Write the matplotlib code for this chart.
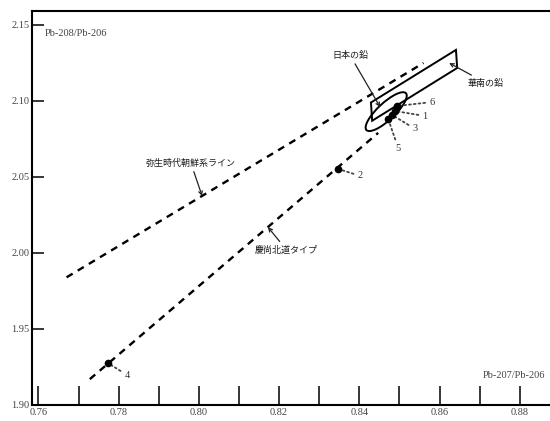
import matplotlib
matplotlib.use("Agg")
import matplotlib.pyplot as plt
from matplotlib.patches import Polygon, Ellipse
from matplotlib.transforms import ScaledTranslation
from matplotlib.ticker import MultipleLocator, FormatStrFormatter

plt.rcParams['font.family'] = ['Liberation Serif', 'DejaVu Serif']

# 測定点 (Pb-207/Pb-206, Pb-208/Pb-206)
pt_labels = ["1", "2", "3", "4", "5", "6"]
pt_x = [0.8489, 0.8347, 0.8482, 0.7773, 0.8472, 0.8494]
pt_y = [2.0934, 2.0553, 2.0908, 1.9276, 2.0882, 2.0967]
# 番号の位置
lab_x = [0.8564, 0.8402, 0.8539, 0.7821, 0.8497, 0.8581]
lab_y = [2.0901, 2.0507, 2.0816, 1.9197, 2.0690, 2.0993]

# 弥生時代朝鮮系ライン
yayoi_x = [0.767, 0.856]
yayoi_y = [1.984, 2.125]
# 慶尚北道タイプ
gyeong_x = [0.7728, 0.8447]
gyeong_y = [1.9170, 2.0790]

# 華南の鉛 の範囲
kanan_x = [0.8432, 0.8644, 0.8641, 0.8429]
kanan_y = [2.0870, 2.1217, 2.1336, 2.0990]
# 日本の鉛 の範囲 (中心)
japan_cx = 0.8467
japan_cy = 2.0930

jp = ['Noto Sans CJK JP', 'DejaVu Sans']

fig = plt.figure(figsize=(5.5, 4.21), dpi=100)
ax = fig.add_axes([32 / 550, 16 / 421, 517 / 550, 394 / 421])
ax.set_xlim(0.75838, 0.8873)
ax.set_ylim(1.90, 2.1592)

for s in ["left", "bottom", "top"]:
    ax.spines[s].set_linewidth(1.5)
ax.spines["right"].set_visible(False)

ax.xaxis.set_major_locator(MultipleLocator(0.02))
ax.xaxis.set_minor_locator(MultipleLocator(0.01))
ax.xaxis.set_major_formatter(FormatStrFormatter('%.2f'))
ax.yaxis.set_major_locator(MultipleLocator(0.05))
ax.yaxis.set_major_formatter(FormatStrFormatter('%.2f'))
ax.tick_params(axis='x', which='both', direction='in', length=14, width=1.1,
               labelsize=7.5, pad=2, labelcolor='#444444')
ax.tick_params(axis='y', which='both', direction='in', length=8.5, width=1.1,
               labelsize=7.5, pad=2, labelcolor='#444444')

# 破線
ax.plot(yayoi_x, yayoi_y, color='black', lw=1.7, ls=(0, (3, 2.5)))
ax.plot(gyeong_x, gyeong_y, color='black', lw=1.7, ls=(0, (3, 2.5)))

# 華南の鉛
ax.add_patch(Polygon(list(zip(kanan_x, kanan_y)), closed=True, fill=False,
                     edgecolor='black', lw=1.4))
# 日本の鉛
tr = fig.dpi_scale_trans + ScaledTranslation(japan_cx, japan_cy, ax.transData)
ax.add_patch(Ellipse((0, 0), 0.54, 0.17, angle=43, transform=tr, fill=False,
                     edgecolor='black', lw=1.4))

# 点と番号
ax.plot(pt_x, pt_y, 'o', color='black', ms=4.5, zorder=5)
for i, lb in enumerate(pt_labels):
    ax.annotate(lb, xy=(pt_x[i], pt_y[i]), xytext=(lab_x[i], lab_y[i]),
                ha='center', va='center', fontsize=7.5, color='#333333',
                arrowprops=dict(arrowstyle='-', ls=':', lw=1.3, color='#444444',
                                shrinkA=1, shrinkB=2))

# 注記
arrow = dict(arrowstyle='->', lw=0.9, color='#222222', shrinkA=1, shrinkB=0)
ax.annotate('日本の鉛', xy=(0.8452, 2.096), xytext=(0.8377, 2.130),
            ha='center', va='center', fontsize=6.5, family=jp, color='#1a1a1a',
            arrowprops=arrow)
ax.annotate('華南の鉛', xy=(0.8624, 2.125), xytext=(0.8671, 2.1118),
            ha='left', va='center', fontsize=6.5, family=jp, color='#1a1a1a',
            arrowprops=arrow)
ax.annotate('弥生時代朝鮮系ライン', xy=(0.8008, 2.0375), xytext=(0.7980, 2.0592),
            ha='center', va='center', fontsize=6.5, family=jp, color='#1a1a1a',
            arrowprops=arrow)
ax.annotate('慶尚北道タイプ', xy=(0.8172, 2.0171), xytext=(0.8140, 2.002),
            ha='left', va='center', fontsize=6.5, family=jp, color='#1a1a1a',
            arrowprops=arrow)

ax.text(0.025, 0.944, 'Pb-208/Pb-206', transform=ax.transAxes, fontsize=7.5,
        ha='left', va='center', color='#444444')
ax.text(0.992, 0.074, 'Pb-207/Pb-206', transform=ax.transAxes, fontsize=7.5,
        ha='right', va='center', color='#444444')

fig.savefig('out.png', dpi=100)
